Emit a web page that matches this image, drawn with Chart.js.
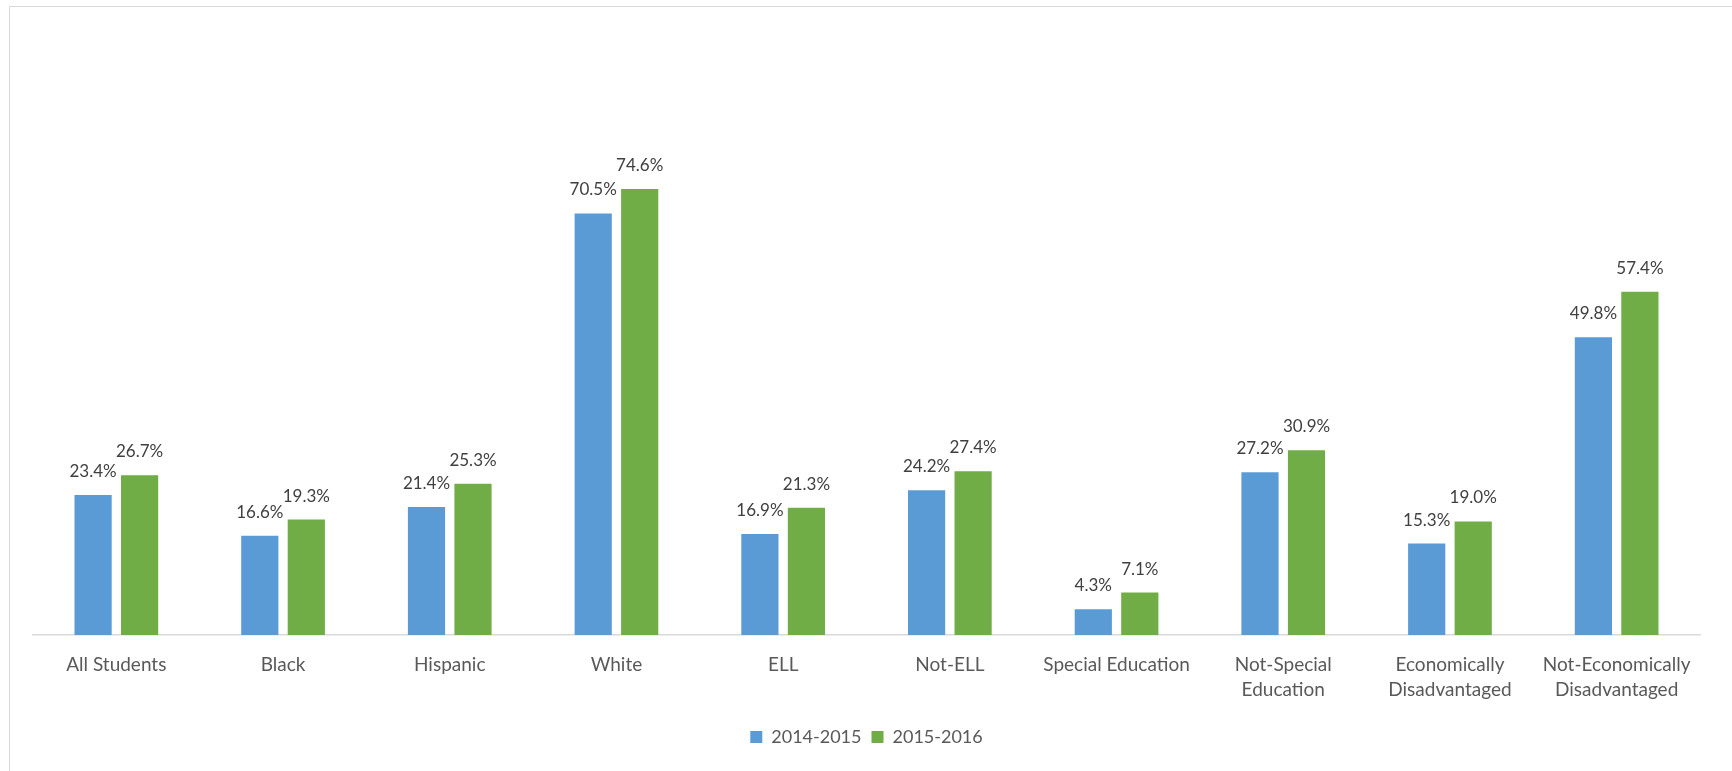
<!DOCTYPE html>
<html>
<head>
<meta charset="utf-8">
<script src="https://cdn.jsdelivr.net/npm/chart.js@4"></script>
<style>
  html, body { margin: 0; padding: 0; background: #fff; }
  #wrap { position: relative; width: 1732px; height: 771px; }
  #frame { position: absolute; left: 9px; top: 6px; right: -2px; bottom: -2px; border-top: 1px solid #d9d9d9; border-left: 1px solid #d9d9d9; }
  canvas { position: absolute; left: 0; top: 0; }
</style>
</head>
<body>
<div id="wrap">
  <div id="frame"></div>
  <canvas id="c" width="1732" height="771"></canvas>
</div>
<script>
const categories = [
  "All Students", "Black", "Hispanic", "White", "ELL", "Not-ELL",
  "Special Education", ["Not-Special", "Education"], ["Economically", "Disadvantaged"],
  ["Not-Economically", "Disadvantaged"]
];
const series2014 = [23.4, 16.6, 21.4, 70.5, 16.9, 24.2, 4.3, 27.2, 15.3, 49.8];
const series2015 = [26.7, 19.3, 25.3, 74.6, 21.3, 27.4, 7.1, 30.9, 19.0, 57.4];
const seriesNames = ["2014-2015", "2015-2016"];

const FONT = "Lato, 'Open Sans', 'Liberation Sans', sans-serif";

const dataLabels = {
  id: 'dataLabels',
  afterDatasetsDraw(chart) {
    const ctx = chart.ctx;
    ctx.save();
    ctx.font = "17px " + FONT;
    ctx.fillStyle = "#404040";
    ctx.textAlign = "center";
    ctx.textBaseline = "alphabetic";
    chart.data.datasets.forEach((ds, di) => {
      chart.getDatasetMeta(di).data.forEach((bar, i) => {
        ctx.fillText(ds.data[i].toFixed(1) + "%", bar.x, bar.y - 18);
      });
    });
    ctx.restore();
  }
};

new Chart(document.getElementById('c'), {
  type: 'bar',
  data: {
    labels: categories,
    datasets: [
      { label: seriesNames[0], data: series2014, backgroundColor: '#5B9BD5', categoryPercentage: 0.558, barPercentage: 0.8 },
      { label: seriesNames[1], data: series2015, backgroundColor: '#70AD47', categoryPercentage: 0.558, barPercentage: 0.8 }
    ]
  },
  options: {
    responsive: false,
    animation: false,
    devicePixelRatio: 1,
    layout: { padding: { left: 33, right: 32, top: 37, bottom: 15 } },
    scales: {
      y: { display: false, min: 0, max: 100 },
      x: {
        grid: { display: false },
        border: { color: '#D9D9D9', width: 1.5 },
        ticks: { color: '#595959', font: { family: FONT, size: 19, lineHeight: 1.32 }, padding: 9, maxRotation: 0, autoSkip: false },
        afterFit(scale) { scale.height = 83; }
      }
    },
    plugins: {
      tooltip: { enabled: false },
      legend: {
        position: 'bottom',
        labels: { color: '#595959', font: { family: FONT, size: 18 }, boxWidth: 12, boxHeight: 12, padding: 10 }
      }
    }
  },
  plugins: [dataLabels]
});
</script>
</body>
</html>
